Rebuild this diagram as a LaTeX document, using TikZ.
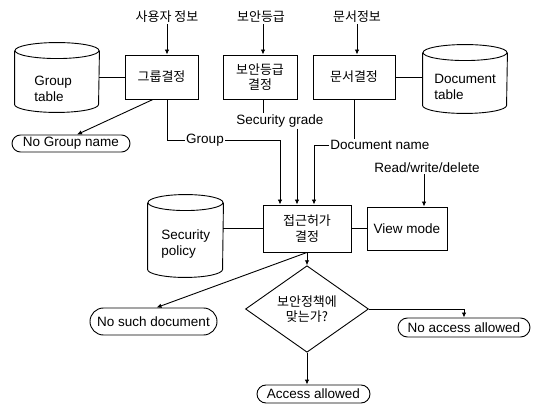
\documentclass[tikz,border=0pt]{standalone}
\usepackage{fontspec}
\setmainfont{Liberation Sans}
\newfontfamily\kr{Noto Sans CJK KR}
\usetikzlibrary{shapes.geometric,shapes.misc,arrows.meta}

\newcommand\mycyl[6]{%
  \node[cylbox, minimum width=#4pt, minimum height=#5pt] (#1) at (#2,#3) {};
  \draw ([yshift=-8pt]#1.north west) -- ([yshift=8pt]#1.south west)
        arc[start angle=180,end angle=360,x radius=#4pt/2,y radius=8pt]
        -- ([yshift=-8pt]#1.north east);
  \draw ([yshift=-8pt]#1.north) ellipse[x radius=#4pt/2, y radius=8pt];
  \node[cyltext] (#1T) at #6;
}

\begin{document}
\begin{tikzpicture}[x=1pt,y=-1pt, line width=0.9pt,
  font=\fontsize{13.5}{15}\selectfont,
  box/.style={draw, rectangle, inner sep=0pt, align=center, font=\kr\fontsize{13}{15.5}\selectfont},
  ebox/.style={draw, rectangle, inner sep=0pt, align=center},
  term/.style={draw, rounded rectangle, inner sep=0pt},
  cylbox/.style={draw=none, rectangle, inner sep=0pt},
  cyltext/.style={anchor=west, align=left, inner sep=0pt, font=\fontsize{13.5}{16}\selectfont},
  krlab/.style={font=\kr\fontsize{13}{15}\selectfont, inner sep=1pt},
  lab/.style={inner sep=1pt},
  arr/.style={-{Latex[length=5pt,width=4.5pt]}}]
\useasboundingbox (0,0) rectangle (547,409);

% process boxes
\node[box, minimum width=73pt, minimum height=44pt] (g) at (161.5,77) {그룹결정};
\node[box, minimum width=74pt, minimum height=44pt] (s) at (260,77) {보안등급\\결정};
\node[box, minimum width=82pt, minimum height=44pt] (d) at (354,77) {문서결정};
\node[box, minimum width=88pt, minimum height=47pt] (a) at (307,228.5) {접근허가\\결정};
\node[ebox, minimum width=80pt, minimum height=43pt] (v) at (407,228.5) {View mode};

% cylinders
\mycyl{gt}{57}{77.5}{84}{69}{(34,89) {Group\\table}}
\mycyl{dt}{465}{79}{84}{68}{(434,87) {Document\\table}}
\mycyl{sp}{185.5}{236}{75}{82}{(161,244) {Security\\policy}}

% terminals
\node[term, minimum width=118pt, minimum height=17pt] (ng) at (71,143.5) {No Group name};
\node[term, minimum width=127pt, minimum height=27pt] (nsd) at (153.5,321.5) {No such document};
\node[term, minimum width=132pt, minimum height=19pt] (na) at (464,327.5) {No access allowed};
\node[term, minimum width=113pt, minimum height=18pt] (aa) at (313.5,394) {Access allowed};

% decision
\node[diamond, draw, inner sep=0pt, minimum width=123pt, minimum height=62pt, align=center,
      font=\kr\fontsize{13}{15}\selectfont] (dm) at (307,309) {보안정책에\\맞는가?};

% labels
\node[krlab] (u1) at (167,17) {사용자 정보};
\node[krlab] (u2) at (261,17) {보안등급};
\node[krlab] (u3) at (357,17) {문서정보};
\node[lab] (gl) at (205,140) {Group};
\node[lab] (sg) at (280,121) {Security grade};
\node[lab] (dn) at (380,145) {Document name};
\node[lab] (rw) at (427,168) {Read/write/delete};

% helper coordinates
\coordinate (x1) at ([xshift=-27pt]a.north);
\coordinate (x2) at ([xshift=-10pt]a.north);
\coordinate (x3) at ([xshift=7pt]a.north);
\coordinate (x4) at ([xshift=17pt]v.north);
\coordinate (gx) at ([xshift=5.5pt]g.south);
\coordinate (gd) at ([xshift=-8.5pt]g.south);
\coordinate (sx) at ([xshift=3pt]s.south);

% connectors
\draw[arr] (gx |- u1.south) -- (gx |- g.north);
\draw[arr] (sx |- u2.south) -- (sx |- s.north);
\draw[arr] (u3.south) -- (u3.south |- d.north);

\draw (g.west) -- (g.west -| gt.east);
\draw (d.east) -- (d.east -| dt.west);
\draw (a.west) -- (a.west -| sp.east);
\draw (a.east) -- (v.west);

\draw[arr] (gd) -- ([xshift=6pt]ng.north);
\draw (gx) |- (gl.west);
\draw[arr] (gl.east) -| (x1);
\draw (sx) -- (sx |- sg.north);
\draw[arr] (x2 |- sg.south) -- (x2);
\draw (d.south) -- (d.south |- dn.north);
\draw[arr] (dn.west) -| (x3);
\draw[arr] (x4 |- rw.south) -- (x4);

\draw[arr] (a.south) -- ([xshift=3pt]nsd.north);
\draw[arr] (a.south) -- (dm.north);
\draw[arr] (dm.east) -| (na.north);
\draw[arr] (dm.south) -- (dm.south |- aa.north);
\end{tikzpicture}
\end{document}
